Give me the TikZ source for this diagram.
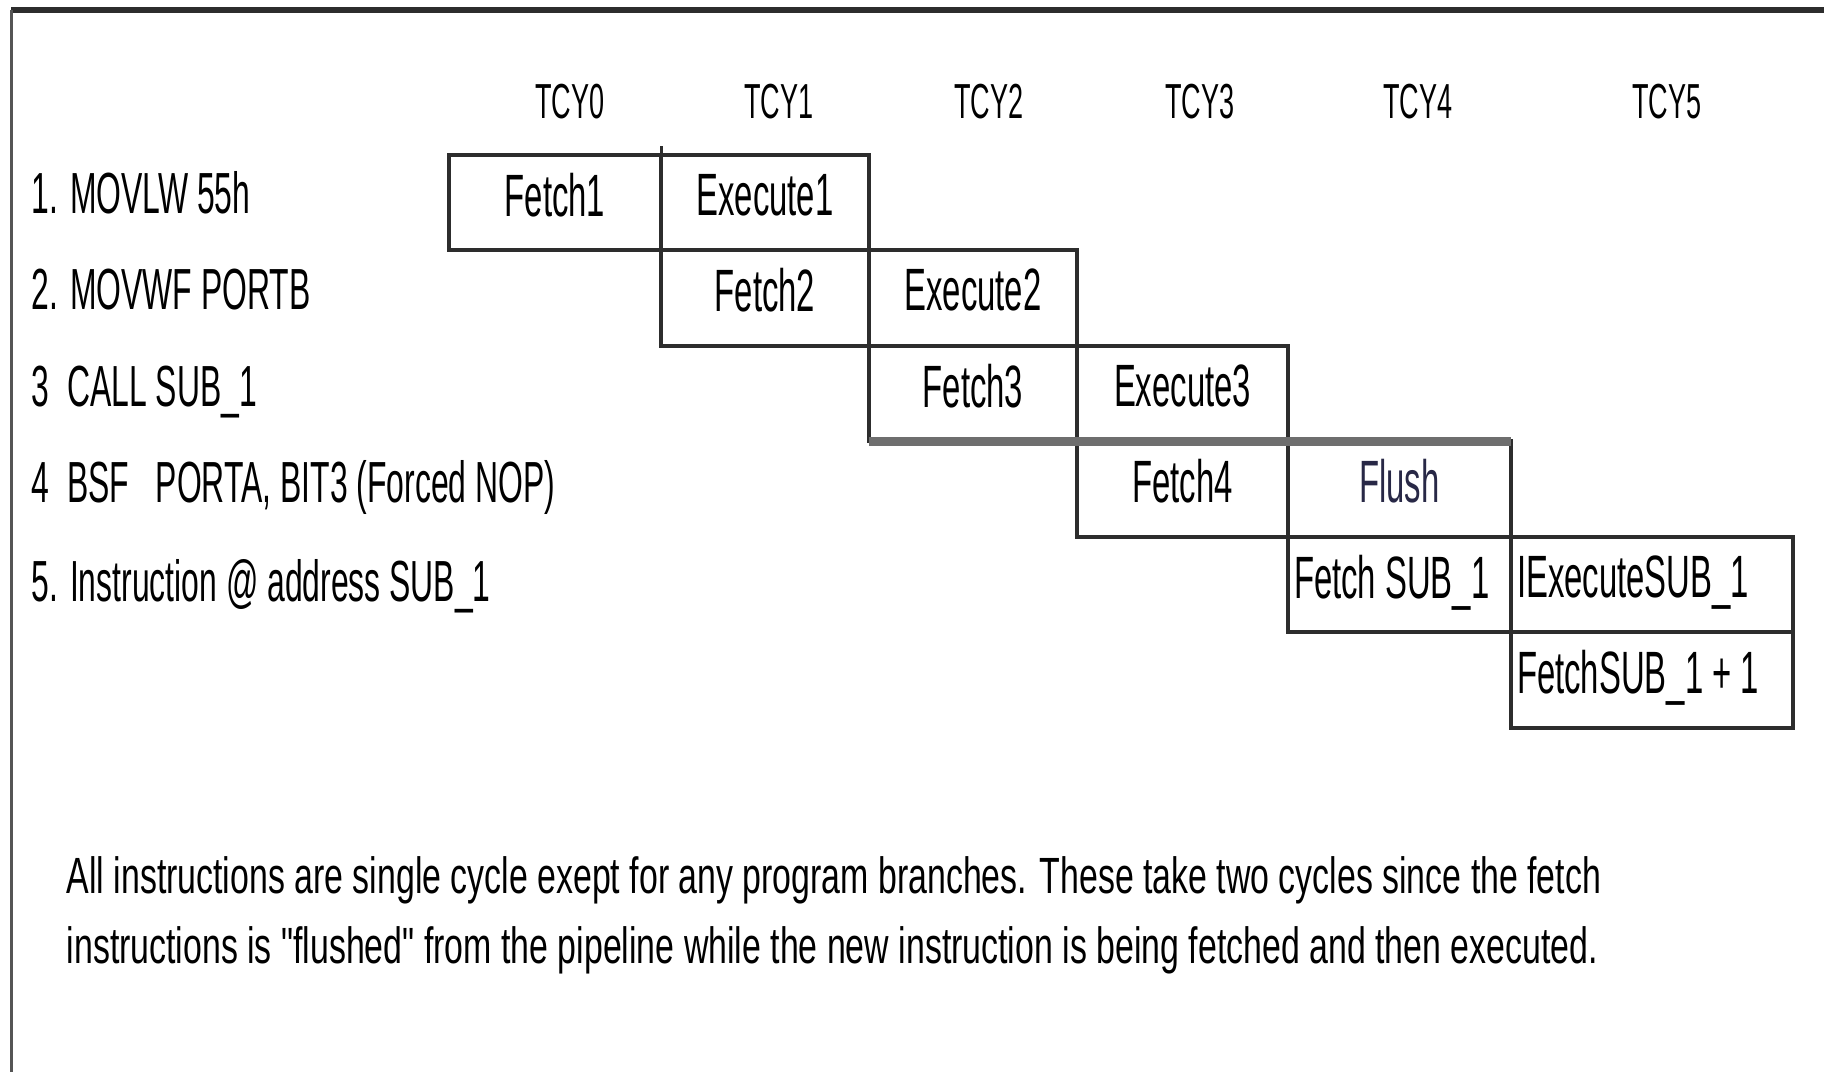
\documentclass[tikz,border=0pt]{standalone}
\usepackage{fontspec}
\setmainfont{Liberation Sans}[FakeStretch=0.55]
\newfontfamily\notefont{Liberation Sans}[FakeStretch=0.665]
\usetikzlibrary{calc}
\usetikzlibrary{positioning}
\usepackage{xcolor}
\definecolor{boxline}{RGB}{45,45,45}
\definecolor{frameline}{RGB}{85,85,85}
\definecolor{nopline}{RGB}{110,110,110}
\definecolor{flushtext}{RGB}{40,40,70}

\begin{document}
\begin{tikzpicture}[x=0.1mm, y=-0.1mm]
  \tikzstyle{cyclabel} = [inner sep=0pt, font=\fontsize{14}{17}\selectfont]
  \tikzstyle{instr} = [anchor=west, inner sep=0pt, text depth=0.25em, font=\fontsize{16.5}{19}\selectfont]
  \tikzstyle{stage} = [draw=boxline, line width=0.4mm, inner sep=0pt, outer sep=0pt,
  minimum height=9.55mm, text depth=0.45em,
  font=\fontsize{17}{20}\selectfont]
  \tikzstyle{stageleft} = [stage, inner xsep=0.6mm, align=flush left] % text sits on the left side
  \tikzstyle{note} = [anchor=base west, inner sep=0pt, font=\notefont\fontsize{14.5}{17}\selectfont]

\useasboundingbox (0,0) rectangle (1824,1072);

% frame
\draw[boxline, line width=0.6mm] (11,10) -- (1824,10);
\draw[frameline, line width=0.3mm] (11,10) -- (11,1072);

% cycle heads
\foreach \x/\n in {570/0, 779/1, 989/2, 1200/3, 1418/4, 1667/5}
  \node[cyclabel] (tcy\n) at (\x,102) {TCY\n};

% pipeline stages, one row per instruction
\node[stage, minimum width=21.2mm] (fetch1) at (555,202.5) {Fetch1};
\node[stage, minimum width=20.8mm, right=0pt of fetch1] (exec1) {Execute1};

\node[stage, minimum width=20.8mm, below=0pt of exec1] (fetch2) {Fetch2};
\node[stage, minimum width=20.8mm, right=0pt of fetch2] (exec2) {Execute2};

\node[stage, minimum width=20.8mm, below=0pt of exec2] (fetch3) {Fetch3};
\node[stage, minimum width=21.1mm, right=0pt of fetch3] (exec3) {Execute3};

\node[stage, minimum width=21.1mm, below=0pt of exec3] (fetch4) {Fetch4};
\node[stage, minimum width=22.3mm, right=0pt of fetch4, text=flushtext] (flush) {Flush};

\node[stageleft, minimum width=22.3mm, text width=21.1mm, below=0pt of flush] (fetchsub) {Fetch SUB\_1};
\node[stageleft, minimum width=28.2mm, text width=27mm, right=0pt of fetchsub] (execsub) {IExecuteSUB\_1};

\node[stageleft, minimum width=28.2mm, text width=27mm, below=0pt of execsub] (fetchnext) {FetchSUB\_1 + 1};

% forced NOP: heavier grey rule over the flushed fetch
\draw[nopline, line width=0.9mm] (fetch3.south west) -- (flush.north east);
\draw[boxline, line width=0.3mm] (exec1.north west) -- ++(0,-9);

% instructions
\coordinate (lblx) at (31,0);
\node[instr] (in1) at ($(lblx |- fetch1)+(0,-6)$) {1. MOVLW 55h};
\node[instr] (in2) at ($(lblx |- fetch2)+(0,-4)$) {2. MOVWF PORTB};
\node[instr] (in3) at ($(lblx |- fetch3)+(0,-3)$) {3\ \ CALL SUB\_1};
\node[instr] (in4) at ($(lblx |- fetch4)+(0,-3)$) {4\ \ BSF\ \ \ PORTA, BIT3 (Forced NOP)};
\node[instr] (in5) at (lblx |- fetchsub) {5. Instruction @ address SUB\_1};

\node[note] (note1) at (66,893) {All instructions are single cycle exept for any program branches. These take two cycles since the fetch};
\node[note] (note2) at ($(note1.base west)+(0,70)$) {instructions is "flushed" from the pipeline while the new instruction is being fetched and then executed.};

\end{tikzpicture}
\end{document}
